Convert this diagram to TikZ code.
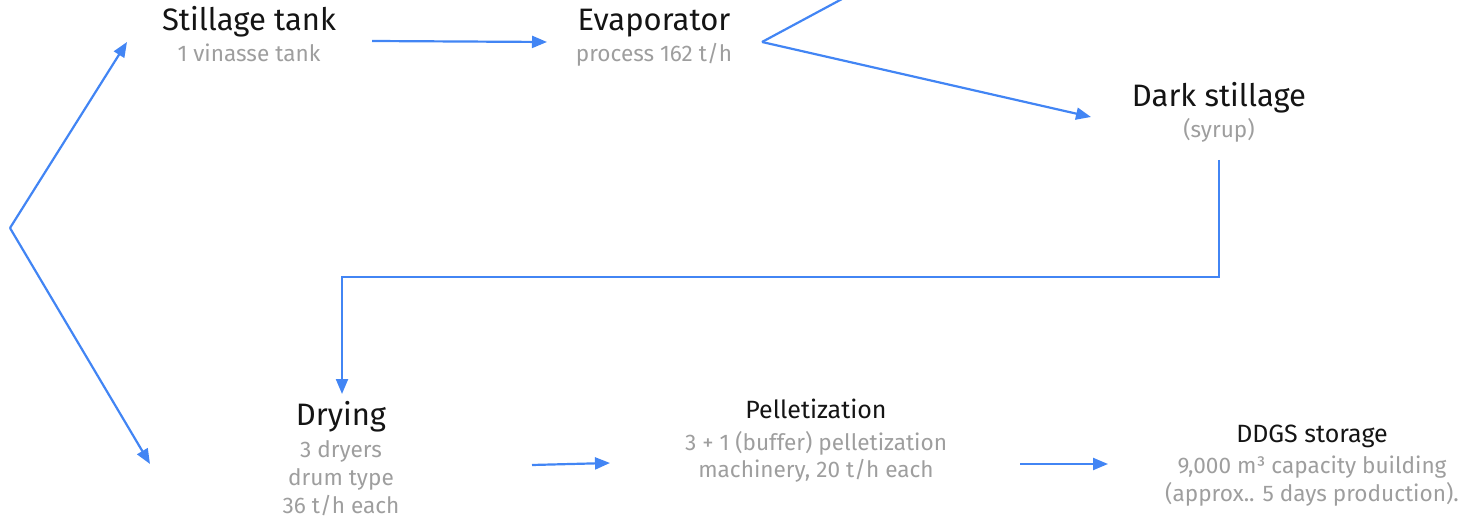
\documentclass[tikz,border=0pt]{standalone}
\usepackage{fontspec}
\setmainfont{Fira Sans}
\usetikzlibrary{arrows.meta}
\definecolor{flow}{HTML}{4285F4}
\definecolor{titlec}{HTML}{141414}
\definecolor{subc}{HTML}{9E9E9E}
\tikzset{
  bigtitle/.style={anchor=base, inner sep=0pt, text=titlec, font=\fontsize{31}{36}\selectfont},
  smalltitle/.style={anchor=base, inner sep=0pt, text=titlec, font=\fontsize{25}{30}\selectfont},
  sub/.style={anchor=base, inner sep=0pt, text=subc, font=\fontsize{22.6}{27}\selectfont},
  flowline/.style={draw=flow, line width=2.2pt, line join=miter},
  flowarrow/.style={flowline, -{Triangle[length=15pt,width=12pt]}}
}
\begin{document}
\begin{tikzpicture}[x=1pt,y=-1pt]
\useasboundingbox (0,0) rectangle (1480,518);

% stage labels
\node[bigtitle] (stT) at (249,31) {Stillage tank};
\node[sub] (stS) at (249,62) {1 vinasse tank};

\node[bigtitle] (evT) at (654,31) {Evaporator};
\node[sub] (evS) at (654,62) {process 162 t/h};

\node[bigtitle] (dsT) at (1219,107) {Dark stillage};
\node[sub] (dsS) at (1219,138) {(syrup)};

\node[bigtitle] (drT) at (341,425) {Drying};
\node[sub] (drS1) at (341,457) {3 dryers};
\node[sub] (drS2) at (341,485) {drum type};
\node[sub] (drS3) at (341,513) {36 t/h each};

\node[smalltitle] (peT) at (816,418) {Pelletization};
\node[sub] (peS1) at (816,450) {3 + 1 (buffer) pelletization};
\node[sub] (peS2) at (816,477) {machinery, 20 t/h each};

\node[smalltitle] (ddT) at (1312,442) {DDGS storage};
\node[sub] (ddS1) at (1312,473) {9,000 m³ capacity building};
\node[sub] (ddS2) at (1312,501) {(approx.. 5 days production).};

% connector end points
\coordinate (split) at (10,228);
\coordinate (toStill) at (127,42);
\coordinate (toDry) at (150,464);
\coordinate (stOut) at (372,41);
\coordinate (evIn) at (547,42);
\coordinate (evOut) at (762,42);
\coordinate (evUp) at (842,-1);
\coordinate (dsIn) at (1091,117);
\coordinate (dsOut) at (1219,160);
\coordinate (bendA) at (1219,277);
\coordinate (bendB) at (342,277);
\coordinate (drIn) at (342,394);
\coordinate (drOut) at (532,465);
\coordinate (peIn) at (610,463);
\coordinate (peOut) at (1020,464);
\coordinate (ddIn) at (1108,464);

% connectors
\draw[flowarrow] (split) -- (toStill);
\draw[flowarrow] (split) -- (toDry);
\draw[flowarrow] (stOut) -- (evIn);
\draw[flowline] (evOut) -- (evUp);
\draw[flowarrow] (evOut) -- (dsIn);
\draw[flowarrow] (dsOut) -- (bendA) -- (bendB) -- (drIn);
\draw[flowarrow] (drOut) -- (peIn);
\draw[flowarrow] (peOut) -- (ddIn);
\end{tikzpicture}
\end{document}
